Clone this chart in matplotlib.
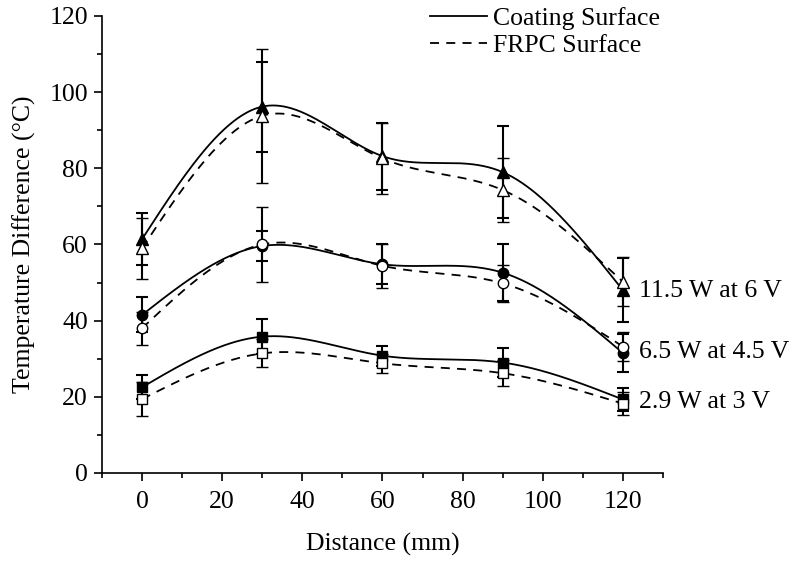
import numpy as np
import matplotlib
matplotlib.use("Agg")
import matplotlib.pyplot as plt

plt.rcParams["font.family"] = ["Liberation Serif", "DejaVu Serif"]

# distance along the sample (mm)
distance = [0, 30, 60, 90, 120]

# 11.5 W at 6 V
coat_hi = [61.4, 96.2, 83.2, 79.0, 48.0]
coat_hi_err = [6.8, 11.8, 8.8, 12.0, 8.4]
frpc_hi = [59.0, 93.8, 82.6, 74.3, 50.2]
frpc_hi_err = [8.0, 17.6, 9.3, 8.5, 6.4]

# 6.5 W at 4.5 V
coat_mid = [41.5, 59.6, 54.8, 52.6, 31.5]
coat_mid_err = [4.6, 3.9, 5.3, 7.5, 4.9]
frpc_mid = [38.0, 60.0, 54.4, 49.8, 33.2]
frpc_mid_err = [4.4, 9.8, 5.7, 4.8, 3.9]

# 2.9 W at 3 V
coat_lo = [22.5, 35.8, 30.8, 29.0, 19.3]
coat_lo_err = [3.2, 4.6, 2.6, 3.9, 3.0]
frpc_lo = [19.4, 31.4, 28.8, 26.2, 18.2]
frpc_lo_err = [4.4, 3.7, 2.5, 3.4, 3.0]

labels = ["11.5 W at 6 V", "6.5 W at 4.5 V", "2.9 W at 3 V"]
label_y = [46.2, 30.2, 17.1]


def natural_spline(x, y, xs):
    x = np.asarray(x, float); y = np.asarray(y, float)
    n = len(x)
    h = np.diff(x)
    A = np.zeros((n, n)); b = np.zeros(n)
    A[0, 0] = A[-1, -1] = 1
    for i in range(1, n - 1):
        A[i, i - 1] = h[i - 1]
        A[i, i] = 2 * (h[i - 1] + h[i])
        A[i, i + 1] = h[i]
        b[i] = 6 * ((y[i + 1] - y[i]) / h[i] - (y[i] - y[i - 1]) / h[i - 1])
    m = np.linalg.solve(A, b)
    k = np.clip(np.searchsorted(x, xs) - 1, 0, n - 2)
    t0 = xs - x[k]; t1 = x[k + 1] - xs; hk = h[k]
    return (m[k] * t1**3 + m[k + 1] * t0**3) / (6 * hk) \
        + (y[k] / hk - m[k] * hk / 6) * t1 + (y[k + 1] / hk - m[k + 1] * hk / 6) * t0


fig = plt.figure(figsize=(7.93, 5.63), dpi=100)
ax = fig.add_axes([0.1286, 0.1599, 0.7074, 0.8117])

xs = np.linspace(0, 120, 400)
groups = [
    (coat_hi, coat_hi_err, frpc_hi, frpc_hi_err, "^", 8),
    (coat_mid, coat_mid_err, frpc_mid, frpc_mid_err, "o", 7.5),
    (coat_lo, coat_lo_err, frpc_lo, frpc_lo_err, "s", 6.5),
]
for c, ce, f, fe, mk, ms in groups:
    ax.plot(xs, natural_spline(distance, c, xs), color="black", lw=1.3, zorder=2)
    ax.plot(xs, natural_spline(distance, f, xs), color="black", lw=1.3,
            ls=(0, (5, 4)), zorder=2)
    ax.errorbar(distance, c, yerr=ce, fmt=mk, ms=ms, mfc="black", mec="black",
                ecolor="black", elinewidth=1.5, capsize=4, capthick=1.5, zorder=3)
    ax.errorbar(distance, f, yerr=fe, fmt=mk, ms=ms, mfc="white", mec="black",
                mew=1.0, ecolor="black", elinewidth=1.5, capsize=4, capthick=1.5,
                zorder=4)

for lbl, y in zip(labels, label_y):
    ax.text(124, y, lbl, fontsize=18.5, va="baseline", ha="left")

ax.plot([], [], color="black", lw=1.3, label="Coating Surface")
ax.plot([], [], color="black", lw=1.3, ls=(0, (5, 4)), label="FRPC Surface")
ax.legend(loc="upper left", bbox_to_anchor=(0.562, 1.047), frameon=False,
          fontsize=18.5, handlelength=2.2, handletextpad=0.25, labelspacing=0.15,
          borderpad=0)

ax.set_xlim(-10, 130)
ax.set_ylim(0, 120)
ax.set_xticks([0, 20, 40, 60, 80, 100, 120])
ax.set_xticks(np.arange(-10, 131, 10), minor=True)
ax.set_yticks(np.arange(0, 121, 20))
ax.set_yticks(np.arange(10, 120, 20), minor=True)
ax.tick_params(which="major", length=6, width=1.2, labelsize=18.5, direction="out")
ax.tick_params(axis="x", which="major", pad=7)
ax.tick_params(axis="y", which="major", pad=4)
ax.tick_params(which="minor", length=3.5, width=1.2, direction="out")
for s in ["top", "right"]:
    ax.spines[s].set_visible(False)
for s in ["left", "bottom"]:
    ax.spines[s].set_linewidth(1.2)

ax.set_xlabel("Distance (mm)", fontsize=18.5, labelpad=14)
ax.set_ylabel("Temperature Difference (°C)", fontsize=18.5, labelpad=10)

fig.savefig("out.png", dpi=100)
